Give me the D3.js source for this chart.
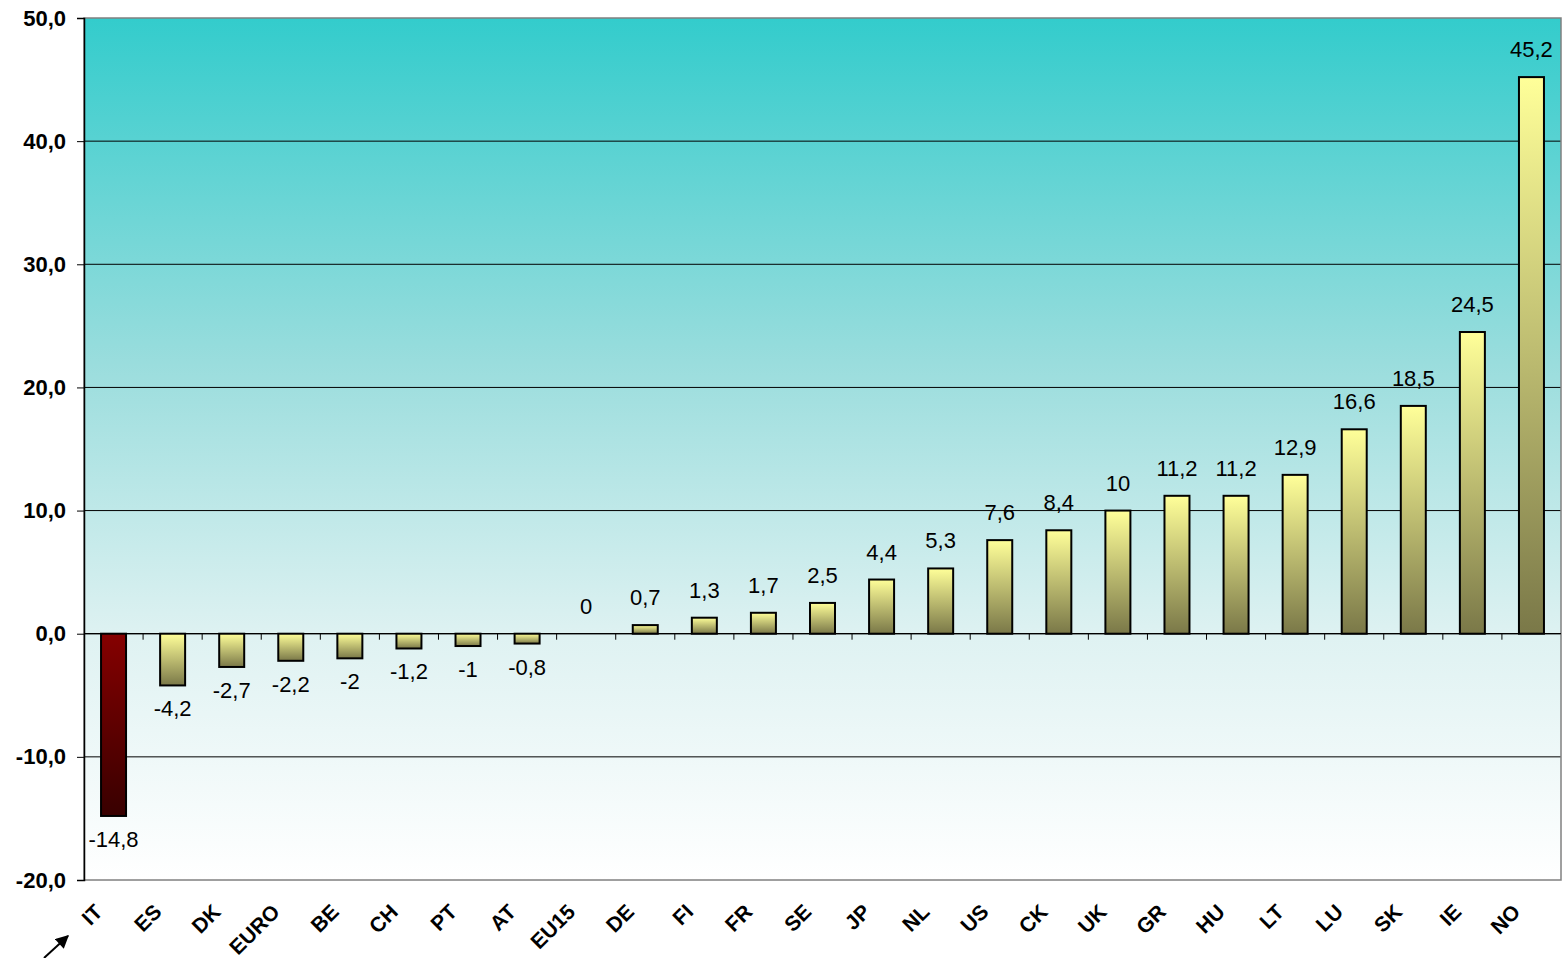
<!DOCTYPE html>
<html><head><meta charset="utf-8">
<script src="https://cdn.jsdelivr.net/npm/d3@7"></script>
<style>body{margin:0;background:#fff;}svg{display:block;font-family:"Liberation Sans",Arial,sans-serif;}</style>
</head><body>
<svg id="c" width="1563" height="958"></svg>
<script>
const categories = ["IT","ES","DK","EURO","BE","CH","PT","AT","EU15","DE","FI","FR","SE","JP","NL","US","CK","UK","GR","HU","LT","LU","SK","IE","NO"];
const values = [-14.8,-4.2,-2.7,-2.2,-2,-1.2,-1,-0.8,0,0.7,1.3,1.7,2.5,4.4,5.3,7.6,8.4,10,11.2,11.2,12.9,16.6,18.5,24.5,45.2];
const valueLabels = ["-14,8","-4,2","-2,7","-2,2","-2","-1,2","-1","-0,8","0","0,7","1,3","1,7","2,5","4,4","5,3","7,6","8,4","10","11,2","11,2","12,9","16,6","18,5","24,5","45,2"];
const yTicks = [-20,-10,0,10,20,30,40,50];
const yTickLabels = ["-20,0","-10,0","0,0","10,0","20,0","30,0","40,0","50,0"];

const svg = d3.select("#c");
const L=84, R=1561, T=18, B=880;
const x = d3.scaleBand().domain(categories).range([L,R]).paddingInner(0).paddingOuter(0);
const y = d3.scaleLinear().domain([-20,50]).range([B,T]);
const defs = svg.append("defs");
const bg = defs.append("linearGradient").attr("id","bg").attr("x1",0).attr("y1",0).attr("x2",0).attr("y2",1);
bg.append("stop").attr("offset","0%").attr("stop-color","#33cccc");
bg.append("stop").attr("offset","40%").attr("stop-color","#9adddd");
bg.append("stop").attr("offset","72%").attr("stop-color","#dff2f2");
bg.append("stop").attr("offset","100%").attr("stop-color","#ffffff");
const gy = defs.append("linearGradient").attr("id","gy").attr("x1",0).attr("y1",0).attr("x2",0).attr("y2",1);
gy.append("stop").attr("offset","0%").attr("stop-color","#ffff99");
gy.append("stop").attr("offset","100%").attr("stop-color","#7a7848");
const gr = defs.append("linearGradient").attr("id","gr").attr("x1",0).attr("y1",0).attr("x2",0).attr("y2",1);
gr.append("stop").attr("offset","0%").attr("stop-color","#850000");
gr.append("stop").attr("offset","100%").attr("stop-color","#380000");

svg.append("rect").attr("x",L).attr("y",T).attr("width",R-L).attr("height",B-T).attr("fill","url(#bg)");

// gridlines
svg.append("g").selectAll("line").data(yTicks.filter(d=>d!==-20&&d!==50)).join("line")
  .attr("x1",L).attr("x2",R).attr("y1",d=>y(d)).attr("y2",d=>y(d)).attr("stroke","#000").attr("stroke-width",1);

// border
svg.append("rect").attr("x",L).attr("y",T).attr("width",R-L).attr("height",B-T).attr("fill","none").attr("stroke","#808080").attr("stroke-width",1.5);

// y axis
const ya = d3.axisLeft(y).tickValues(yTicks).tickSize(7).tickFormat((d,i)=>yTickLabels[i]);
const yg = svg.append("g").attr("transform",`translate(${L},0)`).call(ya);
yg.select(".domain").attr("stroke","#000").attr("stroke-width",1.5);
yg.selectAll(".tick line").attr("stroke","#000");
yg.selectAll(".tick text").attr("font-size",22).attr("font-weight","bold").attr("fill","#000").attr("x",-18).attr("font-family","Liberation Sans, Arial, sans-serif");

// zero axis line with ticks between categories
svg.append("line").attr("x1",L).attr("x2",R).attr("y1",y(0)).attr("y2",y(0)).attr("stroke","#000").attr("stroke-width",1.2);
svg.append("g").selectAll("line").data(categories.slice(1)).join("line")
  .attr("x1",d=>x(d)).attr("x2",d=>x(d)).attr("y1",y(0)).attr("y2",y(0)+6).attr("stroke","#000");

// bars
const bw = 25;
svg.append("g").selectAll("rect").data(values.map((v,i)=>({v,c:categories[i]}))).join("rect")
  .filter(d=>d.v!==0)
  .attr("x",d=>x(d.c)+x.bandwidth()/2-bw/2).attr("width",bw)
  .attr("y",d=>y(Math.max(0,d.v))).attr("height",d=>Math.abs(y(d.v)-y(0)))
  .attr("fill",(d,i)=>d.c==="IT"?"url(#gr)":"url(#gy)")
  .attr("stroke","#000").attr("stroke-width",2);

// value labels
svg.append("g").selectAll("text").data(values.map((v,i)=>({v,c:categories[i],t:valueLabels[i]}))).join("text")
  .attr("x",d=>x(d.c)+x.bandwidth()/2)
  .attr("y",d=>d.v>=0? y(d.v)-20 : y(d.v)+31)
  .attr("text-anchor","middle").attr("font-size",22).attr("fill","#000").text(d=>d.t);

// category labels
svg.append("g").selectAll("text").data(categories).join("text")
  .attr("transform",d=>`translate(${x(d)+x.bandwidth()/2-15},${908}) rotate(-45)`)
  .attr("text-anchor","end").attr("dy","0.35em").attr("font-size",21).attr("font-weight","bold").attr("fill","#000").text(d=>d);

// arrow
defs.append("marker").attr("id","ah").attr("viewBox","0 0 10 10").attr("refX",9).attr("refY",5).attr("markerWidth",15).attr("markerHeight",13).attr("markerUnits","userSpaceOnUse").attr("orient","auto")
  .append("path").attr("d","M0,0L10,5L0,10z").attr("fill","#000");
svg.append("line").attr("x1",44).attr("y1",958).attr("x2",68).attr("y2",936).attr("stroke","#000").attr("stroke-width",2).attr("marker-end","url(#ah)");
</script>
</body></html>
